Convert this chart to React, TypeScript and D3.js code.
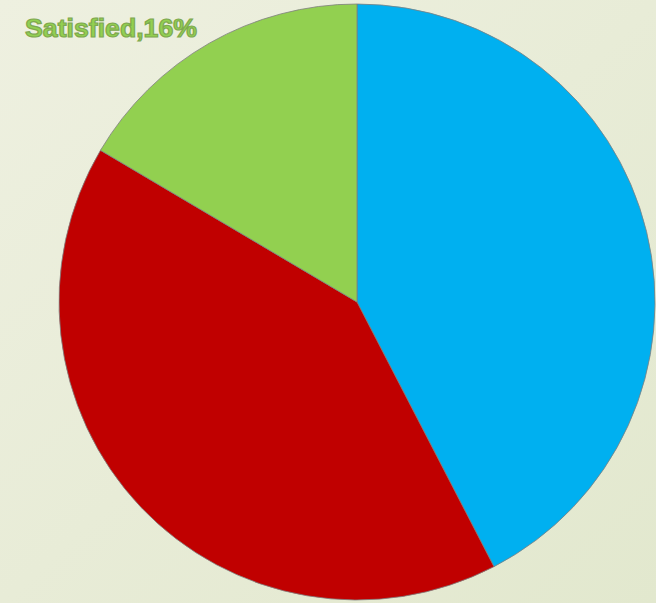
import React from "react";
import * as d3 from "d3";

const categories = ["Dissatisfied", "Neutral", "Satisfied"];
const values = [42.4, 41.1, 16.5];
const colors = ["#00B0F0", "#C00000", "#92D050"];
const labelText = "Satisfied,16%";

export default function App() {
  const W = 656, H = 603;
  const cx = 357, cy = 302, r = 298;
  const pie = d3.pie<number>().sort(null).value((d) => d)(values);
  const arc = d3.arc<d3.PieArcDatum<number>>().innerRadius(0).outerRadius(r);
  return (
    <div style={{ position: "absolute", left: 0, top: 0 }}>
      <svg width={W} height={H} style={{ display: "block" }}>
        <defs>
          <linearGradient id="bg" x1="0" y1="0" x2="1" y2="1">
            <stop offset="0" stopColor="#EEF0E0" />
            <stop offset="1" stopColor="#E2E8CE" />
          </linearGradient>
        </defs>
        <rect width={W} height={H} fill="url(#bg)" />
        <g transform={`translate(${cx},${cy})`}>
          {pie.map((p, i) => (
            <path key={categories[i]} d={arc(p) || ""} fill={colors[i]} stroke="#7f7f7f" strokeWidth={0.8} />
          ))}
        </g>
        <text x={25} y={37} fontFamily="Liberation Sans, Arial, sans-serif" fontWeight="bold" fontSize={26}
          textLength={172} lengthAdjust="spacingAndGlyphs"
          fill="#92D050" stroke="#7FA850" strokeWidth={1.2}>
          {labelText}
        </text>
      </svg>
    </div>
  );
}
